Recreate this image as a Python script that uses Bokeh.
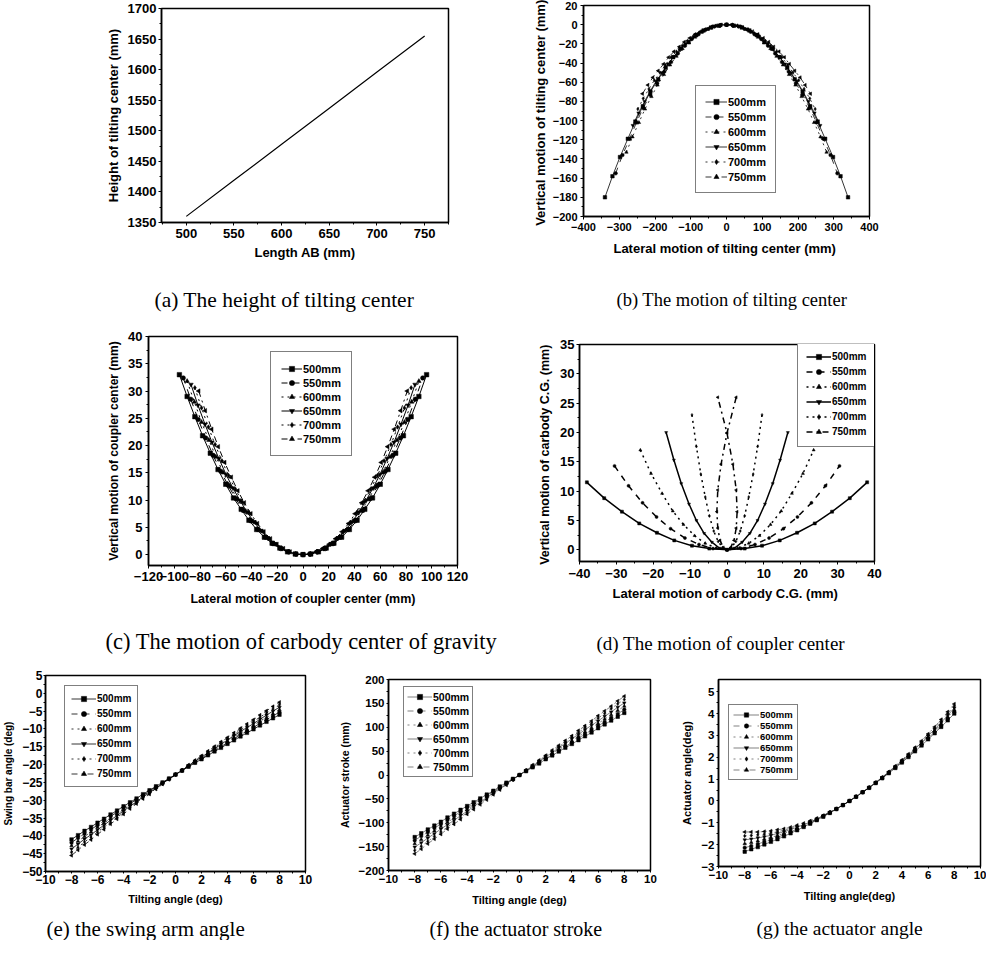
from bokeh.plotting import figure
from bokeh.layouts import column, row
from bokeh.models import Range1d, FixedTicker, Legend, LegendItem, Title
from bokeh.embed import file_html
from bokeh.resources import INLINE

FONT = "Liberation Sans"
SERIF = "Liberation Serif"

SERIES = ["500mm", "550mm", "600mm", "650mm", "700mm", "750mm"]
MARKERS = ["square", "circle", "triangle", "inverted_triangle", "diamond", "triangle"]
MARKER_ANGLES = [0, 0, 0, 0, 0, 1.5708]
DASHES = ["solid", "dashed", "dotted", "solid", "dotted", "dashdot"]

# (a) height of tilting center vs length AB
LENGTH_AB = [500, 550, 600, 650, 700, 750]
HEIGHT_TC = [1360, 1419, 1478, 1537, 1596, 1655]

TILT17 = [-8, -7, -6, -5, -4, -3, -2, -1, 0, 1, 2, 3, 4, 5, 6, 7, 8]
TILT33 = [-8, -7.5, -7, -6.5, -6, -5.5, -5, -4.5, -4, -3.5, -3, -2.5, -2, -1.5, -1, -0.5,
          0, 0.5, 1, 1.5, 2, 2.5, 3, 3.5, 4, 4.5, 5, 5.5, 6, 6.5, 7, 7.5, 8]

# (b) motion of tilting center
B_LAT = [
    [-340, -319, -298, -276, -255, -234, -213, -191, -170, -149, -128, -106, -85, -64, -43, -21, 0,
     21, 43, 64, 85, 106, 128, 149, 170, 191, 213, 234, 255, 276, 298, 319, 340],
    [-310, -291, -271, -252, -233, -213, -194, -174, -155, -136, -116, -97, -78, -58, -39, -19, 0,
     19, 39, 58, 78, 97, 116, 136, 155, 174, 194, 213, 233, 252, 271, 291, 310],
    [-280, -263, -245, -228, -210, -193, -175, -158, -140, -123, -105, -88, -70, -53, -35, -18, 0,
     18, 35, 53, 70, 88, 105, 123, 140, 158, 175, 193, 210, 228, 245, 263, 280],
    [-262, -246, -229, -213, -197, -180, -164, -147, -131, -115, -98, -82, -66, -49, -33, -16, 0,
     16, 33, 49, 66, 82, 98, 115, 131, 147, 164, 180, 197, 213, 229, 246, 262],
    [-248, -233, -217, -202, -186, -171, -155, -140, -124, -109, -93, -78, -62, -47, -31, -16, 0,
     16, 31, 47, 62, 78, 93, 109, 124, 140, 155, 171, 186, 202, 217, 233, 248],
    [-235, -220, -206, -191, -176, -162, -147, -132, -118, -103, -88, -73, -59, -44, -29, -15, 0,
     15, 29, 44, 59, 73, 88, 103, 118, 132, 147, 162, 176, 191, 206, 220, 235],
]
B_VERT = [
    [-180, -158, -138, -119, -101, -85, -70, -57, -45, -34, -25, -18, -11, -6, -3, -1, 0,
     -1, -3, -6, -11, -18, -25, -34, -45, -57, -70, -85, -101, -119, -138, -158, -180],
    [-155, -136, -119, -102, -87, -73, -61, -49, -39, -30, -22, -15, -10, -5, -2, -1, 0,
     -1, -2, -5, -10, -15, -22, -30, -39, -49, -61, -73, -87, -102, -119, -136, -155],
    [-133, -117, -102, -88, -75, -63, -52, -42, -33, -25, -19, -13, -8, -5, -2, -1, 0,
     -1, -2, -5, -8, -13, -19, -25, -33, -42, -52, -63, -75, -88, -102, -117, -133],
    [-105, -92, -80, -69, -59, -50, -41, -33, -26, -20, -15, -10, -7, -4, -2, 0, 0,
     0, -2, -4, -7, -10, -15, -20, -26, -33, -41, -50, -59, -69, -80, -92, -105],
    [-88, -77, -67, -58, -50, -42, -34, -28, -22, -17, -12, -9, -6, -3, -1, 0, 0,
     0, -1, -3, -6, -9, -12, -17, -22, -28, -34, -42, -50, -58, -67, -77, -88],
    [-72, -63, -55, -48, -41, -34, -28, -23, -18, -14, -10, -7, -5, -3, -1, 0, 0,
     0, -1, -3, -5, -7, -10, -14, -18, -23, -28, -34, -41, -48, -55, -63, -72],
]

# (c) motion of coupler center
C_LAT = [
    [-96, -90, -84, -78, -72, -66, -60, -54, -48, -42, -36, -30, -24, -18, -12, -6, 0,
     6, 12, 18, 24, 30, 36, 42, 48, 54, 60, 66, 72, 78, 84, 90, 96],
    [-93, -87.2, -81.4, -75.6, -69.8, -63.9, -58.1, -52.3, -46.5, -40.7, -34.9, -29.1, -23.3, -17.4, -11.6, -5.8, 0,
     5.8, 11.6, 17.4, 23.3, 29.1, 34.9, 40.7, 46.5, 52.3, 58.1, 63.9, 69.8, 75.6, 81.4, 87.2, 93],
    [-90, -84.4, -78.8, -73.1, -67.5, -61.9, -56.3, -50.6, -45, -39.4, -33.8, -28.1, -22.5, -16.9, -11.3, -5.6, 0,
     5.6, 11.3, 16.9, 22.5, 28.1, 33.8, 39.4, 45, 50.6, 56.3, 61.9, 67.5, 73.1, 78.8, 84.4, 90],
    [-87, -81.6, -76.1, -70.7, -65.3, -59.8, -54.4, -48.9, -43.5, -38.1, -32.6, -27.2, -21.8, -16.3, -10.9, -5.4, 0,
     5.4, 10.9, 16.3, 21.8, 27.2, 32.6, 38.1, 43.5, 48.9, 54.4, 59.8, 65.3, 70.7, 76.1, 81.6, 87],
    [-84, -78.8, -73.5, -68.3, -63, -57.8, -52.5, -47.3, -42, -36.8, -31.5, -26.3, -21, -15.8, -10.5, -5.3, 0,
     5.3, 10.5, 15.8, 21, 26.3, 31.5, 36.8, 42, 47.3, 52.5, 57.8, 63, 68.3, 73.5, 78.8, 84],
    [-81, -75.9, -70.9, -65.8, -60.8, -55.7, -50.6, -45.6, -40.5, -35.4, -30.4, -25.3, -20.3, -15.2, -10.1, -5.1, 0,
     5.1, 10.1, 15.2, 20.3, 25.3, 30.4, 35.4, 40.5, 45.6, 50.6, 55.7, 60.8, 65.8, 70.9, 75.9, 81],
]
C_VERT = [
    [33, 29.0, 25.3, 21.8, 18.6, 15.6, 12.9, 10.4, 8.3, 6.3, 4.6, 3.2, 2.1, 1.2, 0.5, 0.1, 0,
     0.1, 0.5, 1.2, 2.1, 3.2, 4.6, 6.3, 8.3, 10.4, 12.9, 15.6, 18.6, 21.8, 25.3, 29.0, 33],
    [32.4, 28.5, 24.8, 21.4, 18.2, 15.3, 12.7, 10.3, 8.1, 6.2, 4.6, 3.2, 2.0, 1.1, 0.5, 0.1, 0,
     0.1, 0.5, 1.1, 2.0, 3.2, 4.6, 6.2, 8.1, 10.3, 12.7, 15.3, 18.2, 21.4, 24.8, 28.5, 32.4],
    [31.8, 28.0, 24.3, 21.0, 17.9, 15.0, 12.4, 10.1, 8.0, 6.1, 4.5, 3.1, 2.0, 1.1, 0.5, 0.1, 0,
     0.1, 0.5, 1.1, 2.0, 3.1, 4.5, 6.1, 8.0, 10.1, 12.4, 15.0, 17.9, 21.0, 24.3, 28.0, 31.8],
    [31.2, 27.4, 23.9, 20.6, 17.6, 14.7, 12.2, 9.9, 7.8, 6.0, 4.4, 3.0, 2.0, 1.1, 0.5, 0.1, 0,
     0.1, 0.5, 1.1, 2.0, 3.0, 4.4, 6.0, 7.8, 9.9, 12.2, 14.7, 17.6, 20.6, 23.9, 27.4, 31.2],
    [30.6, 26.9, 23.4, 20.2, 17.2, 14.5, 12.0, 9.7, 7.7, 5.9, 4.3, 3.0, 1.9, 1.1, 0.5, 0.1, 0,
     0.1, 0.5, 1.1, 1.9, 3.0, 4.3, 5.9, 7.7, 9.7, 12.0, 14.5, 17.2, 20.2, 23.4, 26.9, 30.6],
    [30.0, 26.4, 23.0, 19.8, 16.9, 14.2, 11.7, 9.5, 7.5, 5.7, 4.2, 2.9, 1.9, 1.1, 0.5, 0.1, 0,
     0.1, 0.5, 1.1, 1.9, 2.9, 4.2, 5.7, 7.5, 9.5, 11.7, 14.2, 16.9, 19.8, 23.0, 26.4, 30.0],
]

# (d) motion of carbody C.G.
D_LAT = [
    [-38, -33.3, -28.5, -23.8, -19, -14.3, -9.5, -4.8, 0, 4.8, 9.5, 14.3, 19, 23.8, 28.5, 33.3, 38],
    [-30.5, -26.7, -22.9, -19.1, -15.3, -11.4, -7.6, -3.8, 0, 3.8, 7.6, 11.4, 15.3, 19.1, 22.9, 26.7, 30.5],
    [-23.5, -20.6, -17.6, -14.7, -11.8, -8.8, -5.9, -2.9, 0, 2.9, 5.9, 8.8, 11.8, 14.7, 17.6, 20.6, 23.5],
    [-16.5, -14.4, -12.4, -10.3, -8.3, -6.2, -4.1, -2.1, 0, 2.1, 4.1, 6.2, 8.3, 10.3, 12.4, 14.4, 16.5],
    [-9.5, -8.3, -7.1, -5.9, -4.8, -3.6, -2.4, -1.2, 0, 1.2, 2.4, 3.6, 4.8, 5.9, 7.1, 8.3, 9.5],
    [2.5, 0.0, -1.6, -2.5, -2.75, -2.5, -1.9, -1.0, 0, 1.0, 1.9, 2.5, 2.75, 2.5, 1.6, 0.0, -2.5],
]
D_VERT = [
    [11.5, 8.8, 6.5, 4.5, 2.9, 1.6, 0.7, 0.2, 0, 0.2, 0.7, 1.6, 2.9, 4.5, 6.5, 8.8, 11.5],
    [14.3, 10.9, 8.0, 5.6, 3.6, 2.0, 0.9, 0.2, 0, 0.2, 0.9, 2.0, 3.6, 5.6, 8.0, 10.9, 14.3],
    [17.0, 13.0, 9.6, 6.6, 4.3, 2.4, 1.1, 0.3, 0, 0.3, 1.1, 2.4, 4.3, 6.6, 9.6, 13.0, 17.0],
    [20.0, 15.3, 11.3, 7.8, 5.0, 2.8, 1.3, 0.3, 0, 0.3, 1.3, 2.8, 5.0, 7.8, 11.3, 15.3, 20.0],
    [23.0, 17.6, 12.9, 9.0, 5.8, 3.2, 1.4, 0.4, 0, 0.4, 1.4, 3.2, 5.8, 9.0, 12.9, 17.6, 23.0],
    [26.0, 19.9, 14.6, 10.2, 6.5, 3.7, 1.6, 0.4, 0, 0.4, 1.6, 3.7, 6.5, 10.2, 14.6, 19.9, 26.0],
]

# (e) swing bar angle vs tilting angle
E_SWING = [
    [-41.0, -39.8, -38.6, -37.5, -36.3, -35.2, -34.0, -32.9, -31.7, -30.6, -29.5, -28.3, -27.2, -26.1, -25.0, -23.9,
     -22.8, -21.7, -20.6, -19.5, -18.5, -17.4, -16.3, -15.3, -14.2, -13.2, -12.1, -11.1, -10.1, -9.0, -8.0, -7.0, -6.0],
    [-41.9, -40.6, -39.4, -38.2, -37.0, -35.8, -34.5, -33.4, -32.1, -31.0, -29.8, -28.6, -27.4, -26.3, -25.1, -24.0,
     -22.8, -21.7, -20.5, -19.4, -18.3, -17.2, -16.0, -15.0, -13.8, -12.8, -11.6, -10.6, -9.6, -8.4, -7.4, -6.3, -5.3],
    [-42.8, -41.5, -40.2, -38.9, -37.6, -36.4, -35.1, -33.9, -32.6, -31.3, -30.1, -28.8, -27.6, -26.4, -25.2, -24.0,
     -22.8, -21.6, -20.4, -19.2, -18.1, -16.9, -15.7, -14.6, -13.5, -12.4, -11.2, -10.1, -9.0, -7.8, -6.8, -5.7, -4.6],
    [-43.7, -42.3, -40.9, -39.7, -38.3, -37.0, -35.6, -34.3, -33.0, -31.7, -30.4, -29.1, -27.9, -26.6, -25.3, -24.1,
     -22.8, -21.6, -20.3, -19.1, -17.9, -16.7, -15.5, -14.3, -13.1, -11.9, -10.7, -9.6, -8.5, -7.3, -6.1, -5.0, -3.9],
    [-44.6, -43.2, -41.7, -40.4, -38.9, -37.6, -36.2, -34.8, -33.5, -32.0, -30.7, -29.3, -28.1, -26.7, -25.4, -24.1,
     -22.8, -21.5, -20.2, -18.9, -17.7, -16.4, -15.2, -13.9, -12.8, -11.5, -10.3, -9.1, -7.9, -6.7, -5.5, -4.4, -3.2],
    [-45.5, -44.0, -42.5, -41.1, -39.6, -38.2, -36.7, -35.3, -33.9, -32.4, -31.0, -29.6, -28.3, -26.9, -25.5, -24.2,
     -22.8, -21.5, -20.1, -18.8, -17.5, -16.2, -14.9, -13.6, -12.4, -11.1, -9.8, -8.6, -7.4, -6.1, -4.9, -3.7, -2.5],
]

# (f) actuator stroke vs tilting angle
F_STROKE = [
    [-130, -122, -114, -106, -98, -89, -81, -73, -65, -57, -49, -41, -33, -24, -16, -8, 0,
     8, 16, 24, 33, 41, 49, 57, 65, 73, 81, 89, 98, 106, 114, 122, 130],
    [-137, -128, -120, -111, -103, -94, -86, -77, -68, -60, -51, -43, -34, -26, -17, -9, 0,
     9, 17, 26, 34, 43, 51, 60, 68, 77, 86, 94, 103, 111, 120, 128, 137],
    [-144, -135, -126, -117, -108, -99, -90, -81, -72, -63, -54, -45, -36, -27, -18, -9, 0,
     9, 18, 27, 36, 45, 54, 63, 72, 81, 90, 99, 108, 117, 126, 135, 144],
    [-151, -142, -132, -123, -113, -104, -95, -85, -76, -66, -57, -47, -38, -28, -19, -9, 0,
     9, 19, 28, 38, 47, 57, 66, 76, 85, 95, 104, 113, 123, 132, 142, 151],
    [-158, -149, -139, -129, -119, -109, -99, -89, -79, -69, -59, -50, -40, -30, -20, -10, 0,
     10, 20, 30, 40, 50, 59, 69, 79, 89, 99, 109, 119, 129, 139, 149, 158],
    [-165, -155, -144, -134, -124, -113, -103, -93, -82, -72, -62, -52, -41, -31, -21, -10, 0,
     10, 21, 31, 41, 52, 62, 72, 82, 93, 103, 113, 124, 134, 144, 155, 165],
]

# (g) actuator angle vs tilting angle
G_ANGLE = [
    [-2.32, -2.21, -2.11, -1.99, -1.87, -1.75, -1.62, -1.48, -1.34, -1.19, -1.04, -0.88, -0.72, -0.55, -0.37, -0.19, 0,
     0.19, 0.40, 0.60, 0.82, 1.04, 1.27, 1.51, 1.76, 2.01, 2.27, 2.54, 2.82, 3.10, 3.39, 3.69, 4.00],
    [-2.14, -2.06, -1.97, -1.87, -1.77, -1.66, -1.55, -1.42, -1.29, -1.16, -1.01, -0.86, -0.70, -0.54, -0.37, -0.19, 0,
     0.19, 0.40, 0.61, 0.83, 1.05, 1.29, 1.53, 1.78, 2.04, 2.31, 2.58, 2.87, 3.16, 3.46, 3.77, 4.08],
    [-1.96, -1.90, -1.83, -1.75, -1.67, -1.58, -1.48, -1.37, -1.25, -1.12, -0.99, -0.84, -0.69, -0.53, -0.36, -0.19, 0,
     0.20, 0.40, 0.61, 0.83, 1.06, 1.30, 1.55, 1.80, 2.07, 2.34, 2.62, 2.92, 3.22, 3.53, 3.84, 4.17],
    [-1.78, -1.74, -1.69, -1.64, -1.57, -1.49, -1.41, -1.31, -1.20, -1.09, -0.96, -0.83, -0.68, -0.53, -0.36, -0.19, 0,
     0.20, 0.40, 0.61, 0.84, 1.07, 1.31, 1.56, 1.83, 2.10, 2.38, 2.67, 2.97, 3.28, 3.59, 3.92, 4.26],
    [-1.60, -1.58, -1.55, -1.52, -1.47, -1.41, -1.34, -1.25, -1.16, -1.05, -0.94, -0.81, -0.67, -0.52, -0.36, -0.18, 0,
     0.20, 0.40, 0.62, 0.84, 1.08, 1.32, 1.58, 1.85, 2.12, 2.41, 2.71, 3.02, 3.33, 3.66, 4.00, 4.35],
    [-1.42, -1.42, -1.42, -1.40, -1.37, -1.32, -1.27, -1.20, -1.11, -1.02, -0.91, -0.79, -0.66, -0.51, -0.36, -0.18, 0,
     0.20, 0.40, 0.62, 0.85, 1.09, 1.34, 1.60, 1.87, 2.15, 2.45, 2.75, 3.07, 3.39, 3.73, 4.08, 4.44],
]

# tick definitions
A_XT, A_XM = [500, 550, 600, 650, 700, 750], [475, 525, 575, 625, 675, 725, 775]
A_YT, A_YM = [1350, 1400, 1450, 1500, 1550, 1600, 1650, 1700], [1375, 1425, 1475, 1525, 1575, 1625, 1675]
B_XT, B_XM = [-400, -300, -200, -100, 0, 100, 200, 300, 400], [-350, -250, -150, -50, 50, 150, 250, 350]
B_YT = [-200, -180, -160, -140, -120, -100, -80, -60, -40, -20, 0, 20]
B_YM = [-190, -170, -150, -130, -110, -90, -70, -50, -30, -10, 10]
C_XT = [-120, -100, -80, -60, -40, -20, 0, 20, 40, 60, 80, 100, 120]
C_XM = [-110, -90, -70, -50, -30, -10, 10, 30, 50, 70, 90, 110]
C_YT, C_YM = [0, 5, 10, 15, 20, 25, 30, 35, 40], [2.5, 7.5, 12.5, 17.5, 22.5, 27.5, 32.5, 37.5]
D_XT, D_XM = [-40, -30, -20, -10, 0, 10, 20, 30, 40], [-35, -25, -15, -5, 5, 15, 25, 35]
D_YT, D_YM = [0, 5, 10, 15, 20, 25, 30, 35], [2.5, 7.5, 12.5, 17.5, 22.5, 27.5, 32.5]
T_XT, T_XM = [-10, -8, -6, -4, -2, 0, 2, 4, 6, 8, 10], [-9, -7, -5, -3, -1, 1, 3, 5, 7, 9]
E_YT = [-50, -45, -40, -35, -30, -25, -20, -15, -10, -5, 0, 5]
E_YM = [-47.5, -42.5, -37.5, -32.5, -27.5, -22.5, -17.5, -12.5, -7.5, -2.5, 2.5]
F_YT, F_YM = [-200, -150, -100, -50, 0, 50, 100, 150, 200], [-175, -125, -75, -25, 25, 75, 125, 175]
G_YT, G_YM = [-3, -2, -1, 0, 1, 2, 3, 4, 5], [-2.5, -1.5, -0.5, 0.5, 1.5, 2.5, 3.5, 4.5]


def make_fig(w, h, bl, br, bt, bb, xr, yr):
    p = figure(width=w, height=h, x_range=Range1d(*xr), y_range=Range1d(*yr),
               output_backend="svg", toolbar_location=None, title=None,
               min_border_left=bl, min_border_right=br, min_border_top=bt, min_border_bottom=bb)
    if "frame_align" in p.properties():
        p.frame_align = False
    p.xgrid.visible = False
    p.ygrid.visible = False
    p.outline_line_color = "black"
    p.outline_line_width = 1.5
    p.background_fill_color = "white"
    p.border_fill_color = "white"
    return p


def style_axis(ax, ticks, minor, label, tfs, lfs, out, std, lstd):
    ax.ticker = FixedTicker(ticks=ticks, minor_ticks=minor)
    ax.axis_label = label
    ax.axis_label_text_font = FONT
    ax.axis_label_text_font_size = lfs
    ax.axis_label_text_font_style = "bold"
    ax.axis_label_text_color = "black"
    ax.axis_label_standoff = lstd
    ax.major_label_text_font = FONT
    ax.major_label_text_font_size = tfs
    ax.major_label_text_font_style = "bold"
    ax.major_label_text_color = "black"
    ax.major_label_standoff = std
    ax.major_tick_out = out
    ax.major_tick_in = 0
    ax.minor_tick_out = 2
    ax.minor_tick_in = 0
    ax.axis_line_color = "black"
    ax.axis_line_width = 1.5
    ax.major_tick_line_color = "black"
    ax.minor_tick_line_color = "black"


def add_caption(p, text, offset, spacer, fs):
    p.add_layout(Title(text=" ", text_font_size="1px", standoff=spacer), "below")
    p.add_layout(Title(text=text, align="left", offset=offset, standoff=0,
                       text_font=SERIF, text_font_size=fs, text_font_style="normal",
                       text_color="black"), "below")


def add_series(p, xs_list, ys_list, msize, lw, line_alpha=1.0):
    items = []
    for i, (xs, ys) in enumerate(zip(xs_list, ys_list)):
        rl = p.line(xs, ys, line_color="black", line_width=lw, line_dash=DASHES[i], line_alpha=line_alpha)
        rm = p.scatter(xs, ys, marker=MARKERS[i], size=msize, angle=MARKER_ANGLES[i],
                       fill_color="black", line_color="black", line_width=0.5)
        items.append(LegendItem(label=SERIES[i], renderers=[rl, rm]))
    return items


def add_legend(p, items, loc, padding, spacing, gw, eh, fs):
    leg = Legend(items=items, location=loc, orientation="vertical", padding=padding, spacing=spacing,
                 glyph_width=gw, glyph_height=eh, label_height=eh, label_width=10, label_standoff=1,
                 label_text_font=FONT, label_text_font_size=fs, label_text_font_style="bold",
                 label_text_color="black", border_line_color="black", border_line_width=1.2,
                 background_fill_color="white", background_fill_alpha=1, margin=0)
    p.add_layout(leg)


# ---------- (a)
fa = make_fig(488, 320, 161, 40, 8, 98, (474, 775), (1350, 1700))
style_axis(fa.xaxis[0], A_XT, A_XM, "Length AB (mm)", "13px", "13px", 3, 3, 4)
style_axis(fa.yaxis[0], A_YT, A_YM, "Height of tilting center (mm)", "13px", "13px", 3, 2, 4)
fa.line(LENGTH_AB, HEIGHT_TC, line_color="black", line_width=1.2)
add_caption(fa, "(a) The height of tilting center", -7, 20, "21.5px")

# ---------- (b)
fb = make_fig(492, 320, 95, 111, 5, 104, (-400, 400), (-200, 20))
style_axis(fb.xaxis[0], B_XT, B_XM, "Lateral motion of tilting center  (mm)", "11px", "13px", 3, 3, 7)
style_axis(fb.yaxis[0], B_YT, B_YM, "Vertical motion of tilting center  (mm)", "11px", "13px", 3, 3, 2)
items = add_series(fb, B_LAT, B_VERT, 3.5, 0.8)
add_legend(fb, items, (112, 23), 9, 2, 22, 13, "11px")
add_caption(fb, "(b) The motion of tilting center", 33, 26, "18.5px")

# ---------- (c)
fc = make_fig(497, 337, 148, 40, 16, 92, (-120, 120), (-2, 40))
style_axis(fc.xaxis[0], C_XT, C_XM, "Lateral motion of coupler center (mm)", "13px", "12.5px", 3, 3, 8)
style_axis(fc.yaxis[0], C_YT, C_YM, "Vertical motion of coupler center (mm)", "13px", "12px", 3, 3, 4)
items = add_series(fc, C_LAT, C_VERT, 4.5, 1.0)
add_legend(fc, items, (122, 109), 10, 1, 21, 13, "11px")
add_caption(fc, "(c) The motion of carbody center of gravity", -43, 15, "22.5px")

# ---------- (d)
fd = make_fig(483, 337, 82, 106, 24, 96, (-40, 40), (-2, 35))
style_axis(fd.xaxis[0], D_XT, D_XM, "Lateral motion of carbody C.G.  (mm)", "13px", "13px", 3, 4, 5)
style_axis(fd.yaxis[0], D_YT, D_YM, "Vertical motion of carbody C.G.  (mm)", "13px", "12.5px", 3, 2, 5)
items = add_series(fd, D_LAT, D_VERT, 3, 1.5)
add_legend(fd, items, (218, 114), 8, 2, 25, 13, "10px")
add_caption(fd, "(d) The motion of coupler center", 17, 24, "19px")

# ---------- (e)
fe = make_fig(335, 283, 41, 30, 18, 69, (-10, 10), (-50, 5))
style_axis(fe.xaxis[0], T_XT, T_XM, "Tilting angle (deg)", "12px", "11px", 2, 1, 6)
style_axis(fe.yaxis[0], E_YT, E_YM, "Swing bar angle (deg)", "12px", "10px", 2, 1, 5)
items = add_series(fe, [TILT33] * 6, E_SWING, 3.5, 0.8)
add_legend(fe, items, (19, 84), 6, 2, 25, 13, "10px")
add_caption(fe, "(e) the swing arm angle", 1, 4, "21px")

# ---------- (f)
ff = make_fig(335, 283, 50, 20, 22, 70, (-10, 10), (-200, 200))
style_axis(ff.xaxis[0], T_XT, T_XM, "Tilting angle (deg)", "11.5px", "11px", 2, 2, 8)
style_axis(ff.yaxis[0], F_YT, F_YM, "Actuator stroke (mm)", "11.5px", "10.5px", 2, 2, 5)
items = add_series(ff, [TILT33] * 6, F_STROKE, 3.5, 0.5)
add_legend(ff, items, (15, 93), 3, 1, 25, 13, "10.5px")
add_caption(ff, "(f) the actuator stroke", 41, 4, "20px")

# ---------- (g)
fg = make_fig(316, 283, 48, 6, 22, 74, (-10, 10), (-3, 5.56))
style_axis(fg.xaxis[0], T_XT, T_XM, "Tilting angle(deg)", "11.5px", "11px", 2, 2, 8)
style_axis(fg.yaxis[0], G_YT, G_YM, "Actuator angle(deg)", "11.5px", "11px", 2, 2, 5)
items = add_series(fg, [TILT33] * 6, G_ANGLE, 3.5, 0.5)
add_legend(fg, items, (10, 86), 4, 0, 26, 11, "9.5px")
add_caption(fg, "(g) the actuator angle", 38, 8, "19.5px")

layout = column(row(fa, fb), row(fc, fd), row(fe, ff, fg))

with open("out.html", "w") as f:
    f.write(file_html(layout, INLINE))
